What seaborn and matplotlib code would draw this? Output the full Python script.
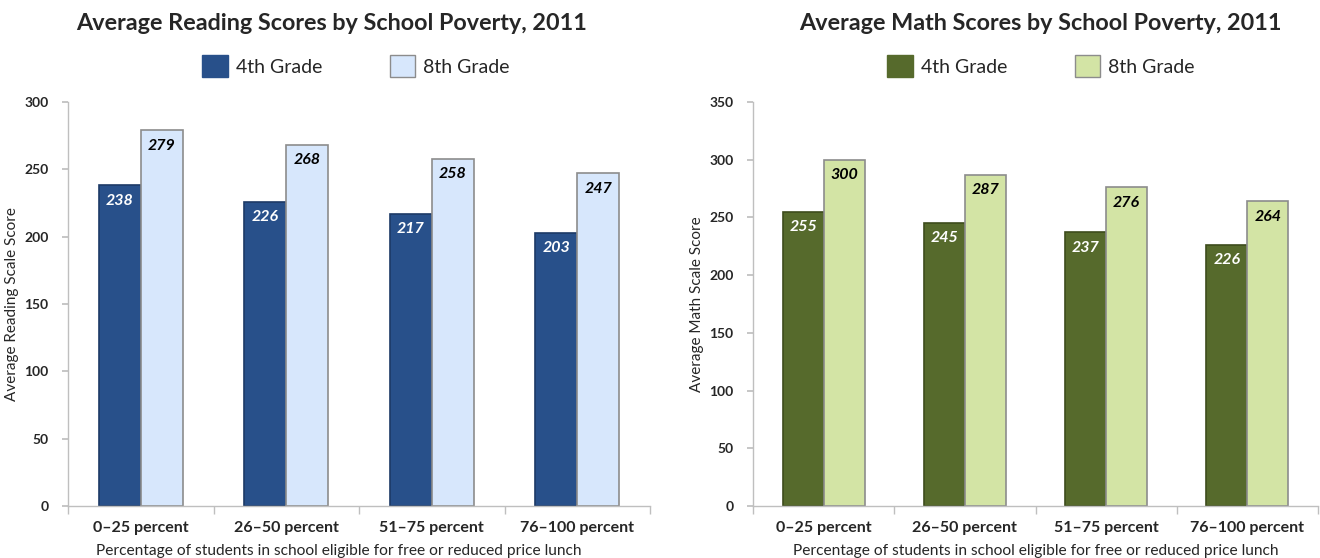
import numpy as np
import pandas as pd
import matplotlib
matplotlib.use("Agg")
import matplotlib.pyplot as plt
import seaborn as sns
from matplotlib.patches import Patch

categories = ["0\u201325 percent", "26\u201350 percent", "51\u201375 percent", "76\u2013100 percent"]
grades = ["4th Grade", "8th Grade"]
reading_4th = [238, 226, 217, 203]
reading_8th = [279, 268, 258, 247]
math_4th = [255, 245, 237, 226]
math_8th = [300, 287, 276, 264]
reading_ticks = [0, 50, 100, 150, 200, 250, 300]
math_ticks = [0, 50, 100, 150, 200, 250, 300, 350]

sns.set_theme(style="white")
plt.rcParams['font.family'] = ['Lato', 'DejaVu Sans']

def make_df(a, b):
    return pd.DataFrame({
        "category": categories * 2,
        "grade": [grades[0]] * 4 + [grades[1]] * 4,
        "score": list(a) + list(b),
    })

fig = plt.figure(figsize=(13.2, 5.58), dpi=100)
ax1 = fig.add_axes([68/1320, 1-506/558, 582/1320, 404/558])
ax2 = fig.add_axes([753/1320, 1-506/558, 565/1320, 404/558])

panels = [
    (ax1, make_df(reading_4th, reading_8th), ["#28508a", "#d7e7fc"], ["#1c3a66", "#8c8c8c"],
     "Average Reading Scores by School Poverty, 2011", "Average Reading Scale Score", reading_ticks, 332, 356, 0.465),
    (ax2, make_df(math_4th, math_8th), ["#566a2c", "#d3e4a5"], ["#3d4c1c", "#8c8c8c"],
     "Average Math Scores by School Poverty, 2011", "Average Math Scale Score", math_ticks, 1040, 1041, 0.5),
]

for ax, df, pal, edges, title, ylabel, yticks, tx, lx, xlx in panels:
    sns.barplot(data=df, x="category", y="score", hue="grade", palette=pal,
                width=0.58, ax=ax, legend=False, saturation=1)
    for ci, cont in enumerate(ax.containers):
        for p in cont.patches:
            p.set_edgecolor(edges[ci])
            p.set_linewidth(1.2)
            h = p.get_height()
            ax.annotate(f"{int(round(h))}", (p.get_x() + p.get_width()/2, h),
                        xytext=(0, -11), textcoords="offset points",
                        ha="center", va="center", fontsize=11.5,
                        fontweight="bold", fontstyle="italic",
                        color="white" if ci == 0 else "black")
    ax.set_xlim(-0.5, 3.5)
    ax.set_ylim(yticks[0], yticks[-1])
    ax.set_yticks(yticks)
    ax.set_yticklabels([str(t) for t in yticks], fontsize=10, fontweight="bold")
    ax.set_xticks(range(4))
    ax.set_xticklabels(categories, fontsize=11.5, fontweight="bold")
    ax.set_xticks(np.arange(-0.5, 4, 1), minor=True)
    ax.tick_params(axis="x", which="major", length=0, pad=11)
    ax.tick_params(axis="x", which="minor", length=6, color="#bfbfbf", direction="out", bottom=True)
    ax.tick_params(axis="y", length=4, color="#bfbfbf", direction="out", left=True, pad=10)
    for s in ["top", "right"]:
        ax.spines[s].set_visible(False)
    for s in ["left", "bottom"]:
        ax.spines[s].set_color("#bfbfbf")
        ax.spines[s].set_linewidth(1)
    ax.set_xlabel("Percentage of students in school eligible for free or reduced price lunch",
                  fontsize=11.2, labelpad=5)
    ax.xaxis.set_label_coords(xlx, -0.095)
    ax.set_ylabel(ylabel, fontsize=11, labelpad=4)
    fig.text(tx/1320, 1-24/558, title, ha="center", va="center",
             fontsize=16.8, fontweight="bold")
    handles = [Patch(facecolor=pal[i], edgecolor=edges[i] if i else pal[i], linewidth=1)
               for i in range(2)]
    fig.legend(handles, grades, loc="center", bbox_to_anchor=(lx/1320, 1-66/558),
               ncol=2, frameon=False, fontsize=14, handlelength=1.3, handleheight=1.3,
               columnspacing=3.5, handletextpad=0.4)

fig.savefig("out.png", dpi=100)
